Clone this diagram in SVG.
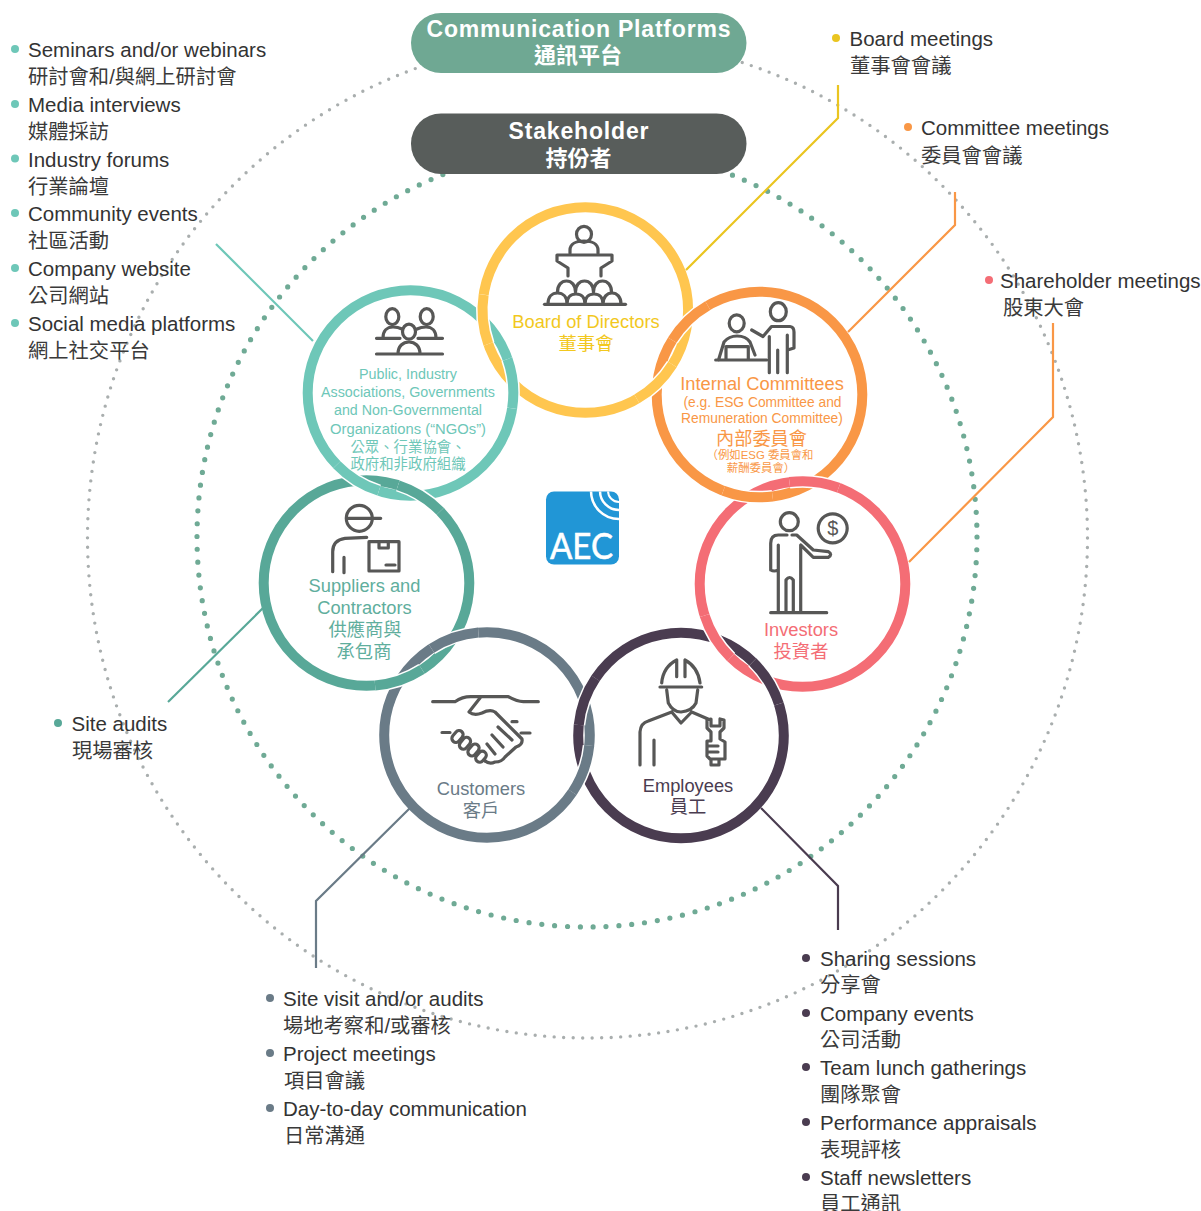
<svg xmlns="http://www.w3.org/2000/svg" width="1201" height="1211" viewBox="0 0 1201 1211">
<style>
text{font-family:"Liberation Sans","Noto Sans CJK TC",sans-serif}
.cjk{font-family:"Noto Sans CJK TC","Liberation Sans",sans-serif}
.l{font-size:20.5px;fill:#333}
.c{font-size:20.3px;fill:#3a3a3a}
.m{text-anchor:middle}
.n{font-size:18.3px}
.pt{font-size:23px;font-weight:700;fill:#fff;text-anchor:middle}
.ring{fill:none;stroke-width:10}
.halo{fill:none;stroke:#fff;stroke-width:13;stroke-dasharray:50 598}
.over{fill:none;stroke-width:10;stroke-dasharray:50 598}
.ic{fill:none;stroke:#575756;stroke-width:3.2;stroke-linecap:round;stroke-linejoin:round}
.cn{fill:none;stroke-width:2.2}
.teal{stroke:#6EC7B8}.yel{stroke:#FFC64F}.ora{stroke:#F99746}.pin{stroke:#F46D75}.grn{stroke:#58A898}.gry{stroke:#6A7B87}.drk{stroke:#4A3C50}
</style>
<defs><clipPath id="lg"><rect x="546" y="491.5" width="73" height="73" rx="8"/></clipPath></defs>

<g id="dotted-rings" fill="none" stroke-linecap="round">
<circle cx="587.5" cy="538" r="500" stroke="#A9AEAE" stroke-width="3.4" stroke-dasharray="0 9.52"/>
<circle cx="587" cy="537" r="390" stroke="#6FAA95" stroke-width="5.2" stroke-dasharray="0 12.897"/>
</g>

<g id="connectors">
<path class="cn" stroke="#EAC520" d="M838,85V118L686,270"/>
<path class="cn" stroke="#F99746" d="M955,192V225L848,332"/>
<path class="cn" stroke="#F99746" d="M1053,323V417L909,562"/>
<path class="cn" stroke="#6EC7B8" d="M216,244L313,341"/>
<path class="cn" stroke="#58A898" d="M168,702L263,608"/>
<path class="cn" stroke="#6A7B87" d="M316,968V901L410,808"/>
<path class="cn" stroke="#4A3C50" d="M838,930V886L761,808"/>
</g>

<g id="rings">
<circle class="ring teal" cx="410.5" cy="393" r="102.800"/>
<circle class="ring yel" cx="585.3" cy="310" r="102.800"/>
<circle class="ring ora" cx="759.5" cy="394.5" r="102.800"/>
<circle class="ring pin" cx="802.5" cy="584" r="102.800"/>
<circle class="ring grn" cx="366.5" cy="583" r="102.800"/>
<circle class="ring gry" cx="487" cy="735" r="102.800"/>
<circle class="ring drk" cx="681" cy="735.5" r="102.800"/>
</g>
<g id="ring-weave">
<circle class="halo" cx="585.3" cy="310" r="102.800" transform="rotate(160.7 585.3 310)"/><circle class="over yel" cx="585.3" cy="310" r="102.800" transform="rotate(160.7 585.3 310)"/>
<circle class="halo" cx="410.5" cy="393" r="102.800" transform="rotate(-19.3 410.5 393)"/><circle class="over teal" cx="410.5" cy="393" r="102.800" transform="rotate(-19.3 410.5 393)"/>
<circle class="halo" cx="759.5" cy="394.5" r="102.800" transform="rotate(-148.1 759.5 394.5)"/><circle class="over ora" cx="759.5" cy="394.5" r="102.800" transform="rotate(-148.1 759.5 394.5)"/>
<circle class="halo" cx="585.3" cy="310" r="102.800" transform="rotate(32 585.3 310)"/><circle class="over yel" cx="585.3" cy="310" r="102.800" transform="rotate(32 585.3 310)"/>
<circle class="halo" cx="759.5" cy="394.5" r="102.800" transform="rotate(82.7 759.5 394.5)"/><circle class="over ora" cx="759.5" cy="394.5" r="102.800" transform="rotate(82.7 759.5 394.5)"/>
<circle class="halo" cx="802.5" cy="584" r="102.800" transform="rotate(-97.3 802.5 584)"/><circle class="over pin" cx="802.5" cy="584" r="102.800" transform="rotate(-97.3 802.5 584)"/>
<circle class="halo" cx="802.5" cy="584" r="102.800" transform="rotate(134.3 802.5 584)"/><circle class="over pin" cx="802.5" cy="584" r="102.800" transform="rotate(134.3 802.5 584)"/>
<circle class="halo" cx="681" cy="735.5" r="102.800" transform="rotate(-45.7 681 735.5)"/><circle class="over drk" cx="681" cy="735.5" r="102.800" transform="rotate(-45.7 681 735.5)"/>
<circle class="halo" cx="681" cy="735.5" r="102.800" transform="rotate(-174.1 681 735.5)"/><circle class="over drk" cx="681" cy="735.5" r="102.800" transform="rotate(-174.1 681 735.5)"/>
<circle class="halo" cx="487" cy="735" r="102.800" transform="rotate(5.9 487 735)"/><circle class="over gry" cx="487" cy="735" r="102.800" transform="rotate(5.9 487 735)"/>
<circle class="halo" cx="487" cy="735" r="102.800" transform="rotate(-122.7 487 735)"/><circle class="over gry" cx="487" cy="735" r="102.800" transform="rotate(-122.7 487 735)"/>
<circle class="halo" cx="366.5" cy="583" r="102.800" transform="rotate(57.3 366.5 583)"/><circle class="over grn" cx="366.5" cy="583" r="102.800" transform="rotate(57.3 366.5 583)"/>
<circle class="halo" cx="410.5" cy="393" r="102.800" transform="rotate(107.9 410.5 393)"/><circle class="over teal" cx="410.5" cy="393" r="102.800" transform="rotate(107.9 410.5 393)"/>
<circle class="halo" cx="366.5" cy="583" r="102.800" transform="rotate(-72.1 366.5 583)"/><circle class="over grn" cx="366.5" cy="583" r="102.800" transform="rotate(-72.1 366.5 583)"/>
</g>

<g id="header-platforms">
<rect x="411" y="13" width="335.500" height="60" rx="30" fill="#6FA893"/>
<text class="pt" x="578.500" y="36.500" textLength="304" lengthAdjust="spacing">Communication Platforms</text>
<text class="pt cjk" x="578" y="63" style="font-size:22px">通訊平台</text>
</g>
<g id="header-stakeholder">
<rect x="411" y="113.500" width="335.500" height="60.500" rx="30" fill="#585D5B"/>
<text class="pt" x="578.500" y="138.500" textLength="140" lengthAdjust="spacing">Stakeholder</text>
<text class="pt cjk" x="578.500" y="166" style="font-size:22px">持份者</text>
</g>

<g id="node-board">
<g class="ic">
<ellipse cx="584" cy="234.300" rx="7.500" ry="8"/>
<path d="M570,253v-3c0-6 6-9 14-9s14,3 14,9v3M557,255H612V261L601,268V276M557,255V261L568,268V276"/>
<path d="M557.500,292c0-7 4-11 9-11s9,4 9,11M575.500,292c0-7 4-11 9-11s9,4 9,11M593.500,292c0-7 4-11 9-11s9,4 9,11"/>
<path fill="#fff" d="M548,304c0-7 4-11 9.500-11s9.500,4 9.500,11M567,304c0-7 4-10 9-10s9,3 9,10M585,304c0-7 4-10 9-10s9,3 9,10M603,304c0-7 4-11 9-11s9,4 9,11"/>
<path d="M544.500,304.300H625.500"/>
</g>
<text class="n m" x="586" y="328" fill="#F2C81E">Board of Directors</text>
<text class="n m cjk" x="586" y="349.500" fill="#F2C81E">董事會</text>
</g>

<g id="node-ngos">
<g class="ic">
<ellipse cx="392.300" cy="316.700" rx="6.500" ry="8"/><ellipse cx="426.700" cy="316.700" rx="6.500" ry="8"/><ellipse cx="409" cy="331.700" rx="6.500" ry="7.500"/>
<path d="M376.500,338.300H400M418,338.300H442.500M376.500,354H442.500M383,338c0-7 4-11 10-11c4,0 7,1 9,2M436,338c0-7-4-11-10-11c-4,0-7,1-9,2M398,354c0-8 5-12 11-12s11,4 11,12"/>
</g>
<g fill="#6EC7B8" font-size="15.200">
<text class="m" x="408" y="379" textLength="98" lengthAdjust="spacingAndGlyphs">Public, Industry</text>
<text class="m" x="408" y="397" textLength="174" lengthAdjust="spacingAndGlyphs">Associations, Governments</text>
<text class="m" x="408" y="415" textLength="148" lengthAdjust="spacingAndGlyphs">and Non-Governmental</text>
<text class="m" x="408" y="434" textLength="156" lengthAdjust="spacingAndGlyphs">Organizations (“NGOs”)</text>
<text class="m cjk" x="408" y="451.500" font-size="14.400">公眾、行業協會、</text>
<text class="m cjk" x="408" y="469" font-size="14.400">政府和非政府組織</text>
</g>
</g>

<g id="node-committees">
<g class="ic">
<ellipse cx="736.700" cy="323.300" rx="7.500" ry="8.500"/><ellipse cx="778.300" cy="311.700" rx="8" ry="9"/>
<path d="M715.700,360H766.700M718.500,360L724,342Q729,336 737,336Q746,336 750,342L755,355M726,360V346.700H748.300V360"/>
<path d="M751.700,330L763,336.500L771.500,326.500H790Q794,327 794,332V348L787.500,350M769.300,336.500V372.700M777.700,350V372.700M787.300,335V372.700"/>
</g>
<g fill="#F99746">
<text class="n m" x="762" y="390">Internal Committees</text>
<text class="m" x="762.500" y="407.300" font-size="13.800">(e.g. ESG Committee and</text>
<text class="m" x="762" y="423.300" font-size="13.800">Remuneration Committee)</text>
<text class="m cjk" x="761.500" y="444.500" font-size="18.200">內部委員會</text>
<text class="m" x="760" y="459" font-size="11.400">（例如ESG 委員會和</text>
<text class="m" x="761" y="472.300" font-size="11.400">薪酬委員會）</text>
</g>
</g>

<g id="node-investors">
<g class="ic">
<circle cx="789.300" cy="521.700" r="9"/><circle cx="832.700" cy="528.300" r="14.500"/>
<path d="M770.700,570V543.300Q770.700,535 778.300,535M770.700,570Q774,572 778.300,570V545M778.300,535H787M792,535H796.700L813.300,550L828.300,551.700Q833,554.500 828.300,557.300H813.300L800.700,545V612.700M786,612.700V580Q789.500,575 793.300,580V612.700M778.300,570V612.700M770.700,612.700H826.700"/>
</g>
<text x="832.700" y="535" font-size="20" text-anchor="middle" fill="#575756">$</text>
<text class="n m" x="801" y="636" fill="#F46D75">Investors</text>
<text class="n m cjk" x="801" y="658" fill="#F46D75">投資者</text>
</g>

<g id="node-suppliers">
<g class="ic">
<circle cx="359.300" cy="518.300" r="13"/>
<path d="M347,518.300H380.700M332.700,571.700V551.700Q332.700,540 345,538.300L366.700,537.300M344,557.300V572.700"/>
<rect x="369" y="541.700" width="30" height="29.300"/>
<path d="M379,541.700V548H388.300V541.700M386,565H395"/>
</g>
<g fill="#5FAE9D">
<text class="n m" x="364.500" y="591.700">Suppliers and</text>
<text class="n m" x="364.500" y="613.500">Contractors</text>
<text class="n m cjk" x="365" y="635.500">供應商與</text>
<text class="n m cjk" x="364" y="657.500">承包商</text>
</g>
</g>

<g id="node-customers">
<g class="ic">
<path d="M432.700,701.700H455Q463,696 473,696.700H508.300Q517,701.700 523.300,701.700H538.300"/>
<path d="M480,698L469,712Q474,716 482,713Q490,709 495,712L522,739Q523,745 516,747L505,757Q502,762 495,762Q489,765 484,760"/>
<path d="M442,732.500H450M521,733H530M512,721.700H517M498,727L512,740M492,735L503,747M487,744L495,754"/>
<g fill="#fff"><rect x="451" y="732.500" width="13" height="8" rx="4" transform="rotate(-50 457.500 736.500)"/><rect x="458.500" y="739.300" width="13" height="8" rx="4" transform="rotate(-50 465 743.300)"/><rect x="467" y="746" width="13" height="8" rx="4" transform="rotate(-50 473.500 750)"/><rect x="475" y="752.700" width="12" height="8" rx="4" transform="rotate(-50 481 756.700)"/></g>
</g>
<text class="n m" x="481" y="795" fill="#6A7B87">Customers</text>
<text class="n m cjk" x="481" y="816.500" fill="#6A7B87">客戶</text>
</g>

<g id="node-employees">
<g class="ic">
<path d="M661.700,683Q663,667 676.700,660V676.700M685,660Q698,667 700,683M685,660V676.700M660,687H701.700M666.700,690L668.300,703Q673,712 681,712Q692,711 696,703L697.700,690M671.700,712L681,723L691.700,712M671.700,712L648.300,721Q640.700,723 640,732V765M654,740V765M691.700,712L708,719"/>
<path d="M707,720V728L711,732V741H707V756L710,759H725V742L720,739V732L724,728V720L720,719V726H711V719ZM711,759V765H719V759M708,746H718M708,752H718"/>
</g>
<text class="n m" x="688" y="791.500" fill="#4A3C50">Employees</text>
<text class="n m cjk" x="688" y="813" fill="#4A3C50">員工</text>
</g>

<g id="aec-logo">
<rect x="546" y="491.500" width="73" height="73" rx="8" fill="#2196D6"/>
<g clip-path="url(#lg)" fill="none" stroke="#fff"><circle cx="619" cy="491" r="28" stroke-width="2.500"/><circle cx="619" cy="491" r="19" stroke-width="2.500"/><circle cx="619" cy="491" r="11" stroke-width="2"/></g>
<text x="550" y="558.500" fill="#fff" stroke="#fff" stroke-width=".6" font-size="37" textLength="63" lengthAdjust="spacingAndGlyphs" style="font-family:Lato,'Liberation Sans',sans-serif">AEC</text>
</g>

<g id="list-platforms-ngos">
<g fill="#6EC7B8"><circle cx="15" cy="49" r="4"/><circle cx="15" cy="104" r="4"/><circle cx="15" cy="158.500" r="4"/><circle cx="15" cy="213" r="4"/><circle cx="15" cy="268" r="4"/><circle cx="15" cy="323" r="4"/></g>
<text class="l" x="28" y="57">Seminars and/or webinars</text><text class="c" x="28" y="83.500">研討會和/與網上研討會</text>
<text class="l" x="28" y="112">Media interviews</text><text class="c cjk" x="28" y="138.500">媒體採訪</text>
<text class="l" x="28" y="166.500">Industry forums</text><text class="c cjk" x="28" y="193.500">行業論壇</text>
<text class="l" x="28" y="221">Community events</text><text class="c cjk" x="28" y="248">社區活動</text>
<text class="l" x="28" y="276">Company website</text><text class="c cjk" x="28" y="302.500">公司網站</text>
<text class="l" x="28" y="331">Social media platforms</text><text class="c cjk" x="28" y="357.500">網上社交平台</text>
</g>
<g id="list-board"><circle cx="836" cy="38" r="4" fill="#EAC520"/>
<text class="l" x="849.500" y="46">Board meetings</text><text class="c cjk" x="850" y="73">董事會會議</text></g>
<g id="list-committees"><circle cx="908" cy="127" r="4" fill="#F99746"/>
<text class="l" x="921" y="135">Committee meetings</text><text class="c cjk" x="921" y="162.500">委員會會議</text></g>
<g id="list-investors"><circle cx="989" cy="280" r="4" fill="#F46D75"/>
<text class="l" x="1000" y="288">Shareholder meetings</text><text class="c cjk" x="1003" y="314.500">股東大會</text></g>
<g id="list-suppliers"><circle cx="58" cy="723" r="4" fill="#58A898"/>
<text class="l" x="71.500" y="731">Site audits</text><text class="c cjk" x="72" y="757.500">現場審核</text></g>
<g id="list-customers">
<g fill="#6A7B87"><circle cx="270" cy="998" r="4"/><circle cx="270" cy="1053" r="4"/><circle cx="270" cy="1108" r="4"/></g>
<text class="l" x="283" y="1006">Site visit and/or audits</text><text class="c" x="283" y="1033">場地考察和/或審核</text>
<text class="l" x="283" y="1061">Project meetings</text><text class="c cjk" x="284" y="1087.500">項目會議</text>
<text class="l" x="283" y="1116">Day-to-day communication</text><text class="c cjk" x="284" y="1142.500">日常溝通</text>
</g>
<g id="list-employees">
<g fill="#4A3C50"><circle cx="806" cy="958" r="4"/><circle cx="806" cy="1013" r="4"/><circle cx="806" cy="1067" r="4"/><circle cx="806" cy="1122" r="4"/><circle cx="806" cy="1177" r="4"/></g>
<text class="l" x="820" y="966">Sharing sessions</text><text class="c cjk" x="820" y="992">分享會</text>
<text class="l" x="820" y="1021">Company events</text><text class="c cjk" x="820" y="1047">公司活動</text>
<text class="l" x="820" y="1075">Team lunch gatherings</text><text class="c cjk" x="820" y="1102">團隊聚會</text>
<text class="l" x="820" y="1130">Performance appraisals</text><text class="c cjk" x="820" y="1156.500">表現評核</text>
<text class="l" x="820" y="1185">Staff newsletters</text><text class="c cjk" x="820" y="1211">員工通訊</text>
</g>
</svg>
